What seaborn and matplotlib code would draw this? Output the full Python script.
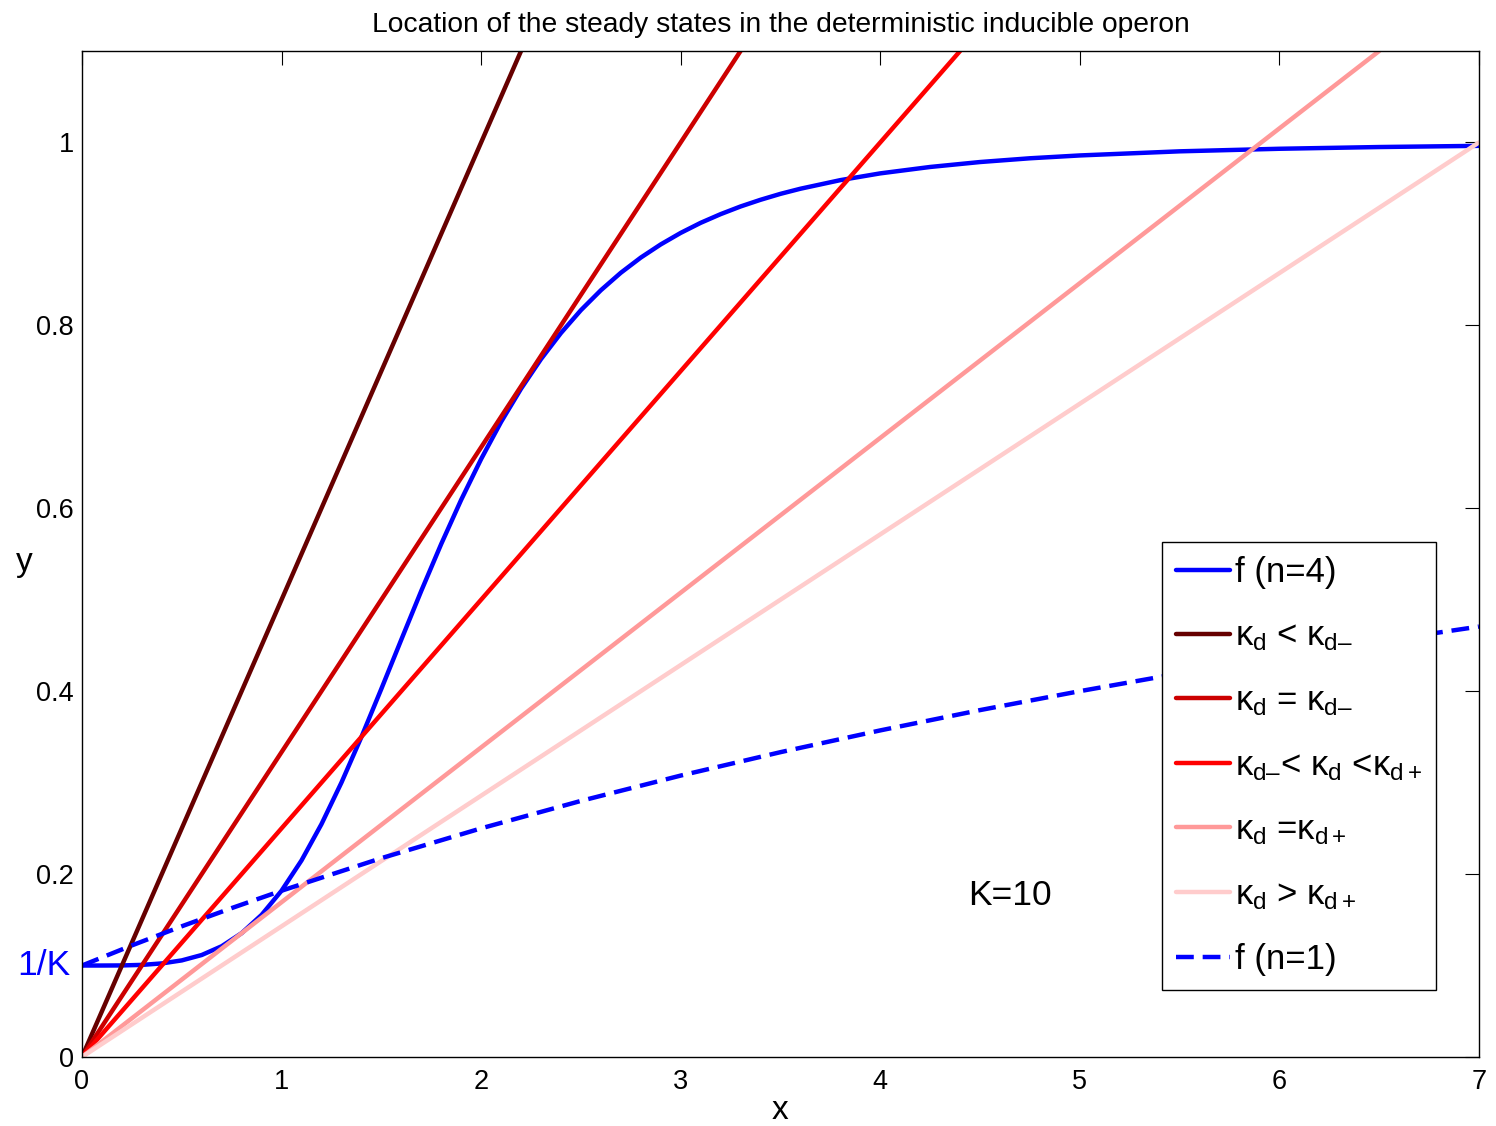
"""
Steady states of the deterministic inducible operon (K=10).
Hill curves f(n=4), f(n=1) and the degradation lines y = x / kappa_d.
"""

import matplotlib
matplotlib.use("Agg")
import matplotlib.pyplot as plt
import seaborn as sns

# ---------- DATA ----------
# f (n=4)
x_f4 = [0.0, 0.1, 0.2, 0.3, 0.4, 0.5, 0.6, 0.7, 0.8, 0.9, 1.0, 1.1, 1.2,
        1.3, 1.4, 1.5, 1.6, 1.7, 1.8, 1.9, 2.0, 2.1, 2.2, 2.3, 2.4, 2.5,
        2.6, 2.7, 2.8, 2.9, 3.0, 3.1, 3.2, 3.3, 3.4, 3.5, 3.6, 3.8, 4.0,
        4.25, 4.5, 4.75, 5.0, 5.5, 6.0, 6.5, 7.0]
y_f4 = [0.1000, 0.1000, 0.1001, 0.1007, 0.1023, 0.1056, 0.1115, 0.1211,
        0.1354, 0.1554, 0.1818, 0.2149, 0.2546, 0.3000, 0.3498, 0.4025,
        0.4563, 0.5096, 0.5609, 0.6092, 0.6538, 0.6944, 0.7307, 0.7631,
        0.7916, 0.8166, 0.8384, 0.8575, 0.8741, 0.8885, 0.9011, 0.9121,
        0.9216, 0.9300, 0.9373, 0.9438, 0.9494, 0.9588, 0.9662, 0.9732,
        0.9786, 0.9827, 0.9858, 0.9903, 0.9931, 0.9950, 0.9963]

# f (n=1)
x_f1 = [0.0, 0.25, 0.5, 0.75, 1.0, 1.5, 2.0, 2.5, 3.0, 3.5, 4.0, 4.5,
        5.0, 5.5, 6.0, 6.5, 7.0]
y_f1 = [0.1000, 0.1220, 0.1429, 0.1628, 0.1818, 0.2174, 0.2500, 0.2800,
        0.3077, 0.3333, 0.3571, 0.3793, 0.4000, 0.4194, 0.4375, 0.4545,
        0.4706]

# degradation lines from the origin to where they leave the box
line_x_end = [2.2, 3.3, 4.4, 6.5, 7.0]
line_y_end = [1.1, 1.1, 1.1, 1.1, 1.0]
line_colors = ["#660000", "#CC0000", "#FF0000", "#FF9999", "#FFCCCC"]
line_labels = [r"$\kappa_{d}$ < $\kappa_{d–}$",
               r"$\kappa_{d}$ = $\kappa_{d–}$",
               r"$\kappa_{d–}$< $\kappa_{d}$ <$\kappa_{d+}$",
               r"$\kappa_{d}$ =$\kappa_{d+}$",
               r"$\kappa_{d}$ > $\kappa_{d+}$"]

x_ticks = [0, 1, 2, 3, 4, 5, 6, 7]
y_ticks = [0, 0.2, 0.4, 0.6, 0.8, 1.0]
y_tick_labels = ["0", "0.2", "0.4", "0.6", "0.8", "1"]

# ---------- STYLE ----------
sns.set_style("white")
plt.rcParams["font.family"] = ["Liberation Sans", "DejaVu Sans"]
plt.rcParams["mathtext.fontset"] = "custom"
plt.rcParams["mathtext.rm"] = "Liberation Sans"
plt.rcParams["mathtext.it"] = "Liberation Sans"
plt.rcParams["mathtext.bf"] = "Liberation Sans:bold"
for key in ["text.color", "axes.labelcolor", "xtick.color", "ytick.color"]:
    plt.rcParams[key] = "black"

fig = plt.figure(figsize=(14.96, 11.26), dpi=100)
ax = fig.add_axes([0.0548, 0.0613, 0.9338, 0.8934])

# ---------- PLOT ----------
sns.lineplot(x=x_f4, y=y_f4, ax=ax, color="#0000FF", linewidth=3.2,
             label="f (n=4)", sort=False)
for xe, ye, c, lab in zip(line_x_end, line_y_end, line_colors, line_labels):
    sns.lineplot(x=[0, xe], y=[0, ye], ax=ax, color=c, linewidth=3.2,
                 label=lab, sort=False)
sns.lineplot(x=x_f1, y=y_f1, ax=ax, color="#0000FF", linewidth=3.2,
             linestyle=(0, (4, 2)), label="f (n=1)", sort=False)

ax.set_xlim(0, 7)
ax.set_ylim(0, 1.1)
ax.set_xticks(x_ticks)
ax.set_xticklabels([str(t) for t in x_ticks])
ax.set_yticks(y_ticks)
ax.set_yticklabels(y_tick_labels)
ax.tick_params(direction="in", length=10, width=0.8, top=True, right=True,
               labelsize=19.5)
ax.tick_params(axis="x", pad=9)
ax.tick_params(axis="y", pad=6)
for sp in ax.spines.values():
    sp.set_visible(True)
    sp.set_color("black")
    sp.set_linewidth(1.0)

ax.set_title("Location of the steady states in the deterministic inducible operon",
             fontsize=20.3, pad=14)
ax.set_xlabel("x", fontsize=24, labelpad=-0.5)
ax.set_ylabel("y", fontsize=24, rotation=0)
ax.yaxis.label.set_va("center")
ax.yaxis.set_label_coords(-0.041, 0.492)

ax.text(-0.06, 0.1, "1/K", color="#0000FF", fontsize=25.5, ha="right",
        va="center", clip_on=False)
ax.text(4.65, 0.177, "K=10", fontsize=25.5, ha="center", va="center")

leg = ax.legend(loc="upper left", bbox_to_anchor=(0.773, 0.512),
                fontsize=25, frameon=True, fancybox=False, framealpha=1,
                edgecolor="black", handlelength=1.55, handletextpad=0.15,
                labelspacing=0.89, borderpad=0.4, borderaxespad=0)
leg.get_frame().set_linewidth(1.0)

fig.savefig("out.png", dpi=100)
plt.close(fig)
